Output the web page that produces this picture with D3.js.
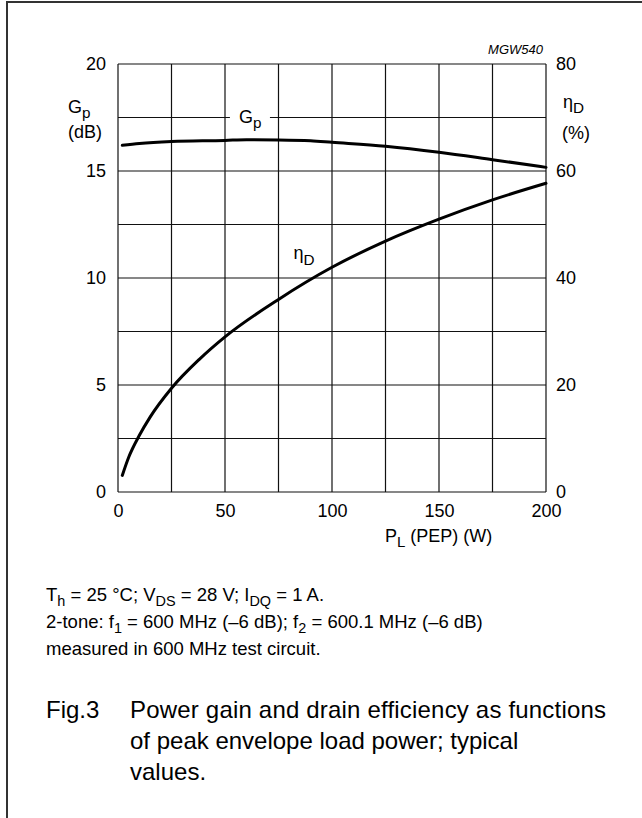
<!DOCTYPE html>
<html>
<head>
<meta charset="utf-8">
<script src="https://cdn.jsdelivr.net/npm/d3@7"></script>
<style>
  body { margin: 0; background: #fff; }
  svg { display: block; font-family: "Liberation Sans", Arial, Helvetica, sans-serif; }
</style>
</head>
<body>
<div id="chart"></div>
<script>
const powerGain = [2, 10, 25, 50, 60, 75, 90, 100, 125, 150, 175, 200];
const gainDb = [16.2, 16.29, 16.38, 16.43, 16.46, 16.45, 16.41, 16.34, 16.16, 15.88, 15.53, 15.17];

const powerEff = [2, 5, 10, 15, 25, 38, 50, 75, 100, 125, 150, 175, 200];
const effPct = [3.1, 6.5, 10.6, 14.0, 19.4, 24.8, 29.0, 36.0, 42.0, 46.9, 51.0, 54.6, 57.7];

const xTicks = [0, 50, 100, 150, 200];
const gainTicks = [0, 5, 10, 15, 20];
const effTicks = [0, 20, 40, 60, 80];
const xGrid = d3.range(0, 201, 25);
const yGrid = d3.range(0, 20.01, 2.5);

const width = 642, height = 818;
const plotL = 118, plotR = 546, plotT = 64, plotB = 492;

const svg = d3.select("#chart").append("svg")
  .attr("width", width)
  .attr("height", height);

// Rahmen (nur oben und links sichtbar)
svg.append("path")
  .attr("d", `M7,${height} L7,2 L${width},2`)
  .attr("fill", "none")
  .attr("stroke", "#333")
  .attr("stroke-width", 2);

// Skalen
const x = d3.scaleLinear().domain([0, 200]).range([plotL, plotR]);
const yG = d3.scaleLinear().domain([0, 20]).range([plotB, plotT]);
const yE = d3.scaleLinear().domain([0, 80]).range([plotB, plotT]);

// Gitter
const grid = svg.append("g").attr("stroke", "#111").attr("stroke-width", 1.2);
grid.selectAll(".vg")
  .data(xGrid)
  .enter()
  .append("line")
  .attr("x1", d => x(d)).attr("x2", d => x(d))
  .attr("y1", plotT).attr("y2", plotB);
grid.selectAll(".hg")
  .data(yGrid)
  .enter()
  .append("line")
  .attr("x1", plotL).attr("x2", plotR)
  .attr("y1", d => yG(d)).attr("y2", d => yG(d));

// Achsen (nur Beschriftung)
const fs = "18px";
const axL = svg.append("g")
  .attr("transform", `translate(${plotL},0)`)
  .call(d3.axisLeft(yG).tickValues(gainTicks).tickSize(0).tickPadding(12));
const axR = svg.append("g")
  .attr("transform", `translate(${plotR},0)`)
  .call(d3.axisRight(yE).tickValues(effTicks).tickSize(0).tickPadding(10));
const axB = svg.append("g")
  .attr("transform", `translate(0,${plotB})`)
  .call(d3.axisBottom(x).tickValues(xTicks).tickSize(0).tickPadding(12));
[axL, axR, axB].forEach(a => {
  a.select(".domain").remove();
  a.selectAll("text")
    .style("font-size", fs)
    .style("font-family", "'Liberation Sans', Arial, sans-serif")
    .attr("fill", "#000");
});

// Kurven
const line = d3.line().curve(d3.curveMonotoneX);

svg.append("path")
  .attr("d", line(powerGain.map((p, i) => [x(p), yG(gainDb[i])])))
  .attr("fill", "none")
  .attr("stroke", "#000")
  .attr("stroke-width", 3)
  .attr("stroke-linecap", "round");

svg.append("path")
  .attr("d", line(powerEff.map((p, i) => [x(p), yE(effPct[i])])))
  .attr("fill", "none")
  .attr("stroke", "#000")
  .attr("stroke-width", 3)
  .attr("stroke-linecap", "round");

// Hilfsfunktion: Text mit Tiefstellung
function subText(g, px, py, main, sub, size, anchor) {
  const t = g.append("text")
    .attr("x", px).attr("y", py)
    .attr("text-anchor", anchor || "start")
    .style("font-size", size + "px");
  t.append("tspan").text(main);
  t.append("tspan").attr("dy", size * 0.3).style("font-size", (size * 0.85) + "px").text(sub);
  return t;
}

// Kurvenbeschriftungen im Diagramm
svg.append("rect")
  .attr("x", x(52.3)).attr("y", yG(17.5) - 6)
  .attr("width", x(71) - x(52.3)).attr("height", 12)
  .attr("fill", "#fff");
subText(svg, x(61.8), yG(17.5) + 5, "G", "p", 18, "middle");
subText(svg, x(82), yG(43.5 / 4), "η", "D", 18, "start");

// Achsentitel
subText(svg, 68, 113, "G", "p", 18, "start");
svg.append("text").attr("x", 68).attr("y", 138).style("font-size", "18px").text("(dB)");
subText(svg, 563, 108, "η", "D", 18, "start");
svg.append("text").attr("x", 562).attr("y", 139).style("font-size", "18px").text("(%)");

const xl = svg.append("text").attr("x", 385).attr("y", 542).style("font-size", "18px");
xl.append("tspan").text("P");
xl.append("tspan").attr("dy", 5).style("font-size", "15px").text("L");
xl.append("tspan").attr("dy", -5).text(" (PEP) (W)");

svg.append("text")
  .attr("x", 543).attr("y", 54)
  .attr("text-anchor", "end")
  .style("font-size", "13px")
  .style("font-style", "italic")
  .text("MGW540");

// Fußnoten
const fn = 18.5;
function noteLine(py, parts) {
  const t = svg.append("text").attr("x", 46).attr("y", py).style("font-size", fn + "px");
  let shift = 0;
  parts.forEach(p => {
    const isSub = p.sub === true;
    const dy = (isSub ? 5 : 0) - shift;
    shift = isSub ? 5 : 0;
    t.append("tspan")
      .attr("dy", dy)
      .style("font-size", isSub ? (fn * 0.78) + "px" : fn + "px")
      .text(p.t);
  });
}
noteLine(601, [
  { t: "T" }, { t: "h", sub: true }, { t: " = 25 °C; V" }, { t: "DS", sub: true },
  { t: " = 28 V; I" }, { t: "DQ", sub: true }, { t: " = 1 A." }
]);
noteLine(628, [
  { t: "2-tone: f" }, { t: "1", sub: true }, { t: " = 600 MHz (–6 dB); f" }, { t: "2", sub: true },
  { t: " = 600.1 MHz (–6 dB)" }
]);
noteLine(655, [{ t: "measured in 600 MHz test circuit." }]);

// Bildunterschrift
const cap = 24;
svg.append("text").attr("x", 46).attr("y", 718).style("font-size", cap + "px").text("Fig.3");
svg.append("text").attr("x", 130).attr("y", 718).style("font-size", cap + "px")
  .attr("textLength", 476).attr("lengthAdjust", "spacing")
  .text("Power gain and drain efficiency as functions");
svg.append("text").attr("x", 130).attr("y", 749).style("font-size", cap + "px")
  .text("of peak envelope load power; typical");
svg.append("text").attr("x", 130).attr("y", 780).style("font-size", cap + "px")
  .text("values.");
</script>
</body>
</html>
